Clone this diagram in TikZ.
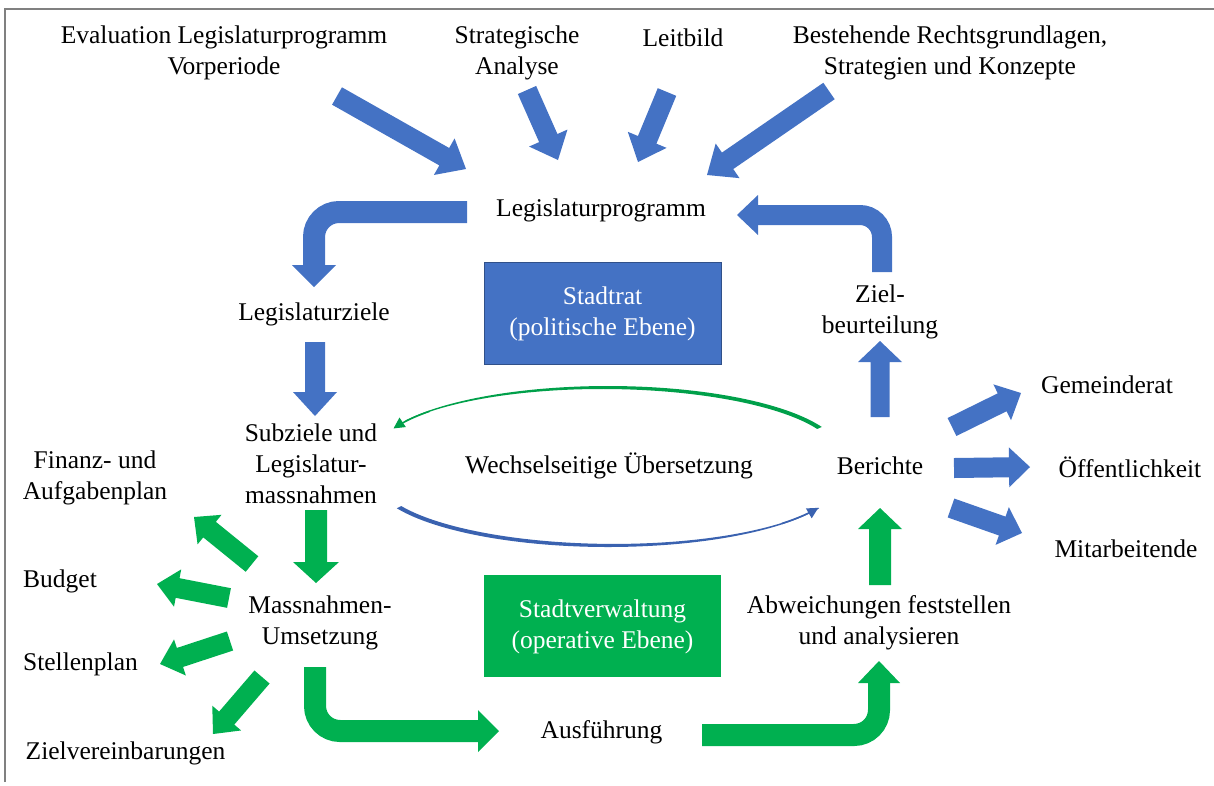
\documentclass[tikz,border=0pt]{standalone}
\usepackage{fontspec}
\setmainfont{Liberation Serif}
\usetikzlibrary{calc,arrows.meta}
\definecolor{ablue}{HTML}{4472C4}
\definecolor{agreen}{HTML}{00B050}
\definecolor{arcgreen}{HTML}{00A04A}
\definecolor{arcblue}{HTML}{3A62B0}
\definecolor{framegray}{HTML}{808080}

% straight block arrow: colour, tail, tip, half shaft width, half head width, head length
\newcommand\blockarrow[6]{%
  \path (#2) coordinate (ba-t) (#3) coordinate (ba-p);
  \path ($(ba-p)!#6pt!(ba-t)$) coordinate (ba-h);
  \fill[#1] ($(ba-t)!#4pt!90:(ba-p)$) -- ($(ba-h)!#4pt!90:(ba-p)$)
    -- ($(ba-h)!#5pt!90:(ba-p)$) -- (ba-p) -- ($(ba-h)!#5pt!-90:(ba-p)$)
    -- ($(ba-h)!#4pt!-90:(ba-p)$) -- ($(ba-t)!#4pt!-90:(ba-p)$) -- cycle;
}

\tikzset{
  lbl/.style={inner sep=0pt, align=center, font=\fontsize{25.5}{31}\selectfont},
  boxlbl/.style={lbl, text=white},
  bent/.style={line width=#1, line cap=butt},
}

\begin{document}
\begin{tikzpicture}[x=1pt,y=-1pt]
\useasboundingbox (0,0) rectangle (1214,785);

% frame
\draw[framegray, line width=1.5pt] (5,782) -- (5,9) -- (1214,9);

% level boxes
\fill[ablue] (484,262) rectangle (721,364);
\draw[ablue!70!black, line width=0.8pt] (484,262) rectangle (721,364);
\node[boxlbl] (stadtrat) at (602.5,314) {Stadtrat\\(politische Ebene)};
\fill[agreen] (484,575) rectangle (721,677);
\node[boxlbl] (verwaltung) at (602.5,627) {Stadtverwaltung\\(operative Ebene)};

% labels
\node[lbl] (eval) at (224,52.5) {Evaluation Legislaturprogramm\\Vorperiode};
\node[lbl] (strat) at (517,52.5) {Strategische\\Analyse};
\node[lbl] (leitbild) at (683,38) {Leitbild};
\node[lbl] (recht) at (950,52.5) {Bestehende Rechtsgrundlagen,\\Strategien und Konzepte};
\node[lbl] (legprog) at (601,210) {Legislaturprogramm};
\node[lbl] (legziele) at (314,314) {Legislaturziele};
\node[lbl] (zielbeurt) at (880,312) {Ziel-\\beurteilung};
\node[lbl] (subziele) at (311,464) {Subziele und\\Legislatur-\\massnahmen};
\node[lbl] (wechsel) at (609,466) {Wechselseitige Übersetzung};
\node[lbl] (berichte) at (880,466) {Berichte};
\node[lbl] (gemeinderat) at (1107,385) {Gemeinderat};
\node[lbl] (oeff) at (1130,467) {Öffentlichkeit};
\node[lbl] (mitarb) at (1126,549) {Mitarbeitende};
\node[lbl] (finanz) at (95,478) {Finanz- und\\Aufgabenplan};
\node[lbl] (budget) at (60,581) {Budget};
\node[lbl] (stellen) at (80.5,664) {Stellenplan};
\node[lbl] (zielverein) at (125.5,753) {Zielvereinbarungen};
\node[lbl] (massn) at (320,623) {Massnahmen-\\Umsetzung};
\node[lbl] (abw) at (879,623) {Abweichungen feststellen\\und analysieren};
\node[lbl] (ausf) at (601.5,732) {Ausführung};

% inputs into the Legislaturprogramm
\coordinate (in1a) at (337,96);  \coordinate (in1b) at (466,169);
\coordinate (in2a) at (527,90);  \coordinate (in2b) at (558,160);
\coordinate (in3a) at (667,92);  \coordinate (in3b) at (638,162);
\coordinate (in4a) at (829,91);  \coordinate (in4b) at (707,175);
\blockarrow{ablue}{in1a}{in1b}{10}{21}{25}
\blockarrow{ablue}{in2a}{in2b}{10}{21}{24}
\blockarrow{ablue}{in3a}{in3b}{10}{21}{24}
\blockarrow{ablue}{in4a}{in4b}{10}{21}{25}

% Legislaturprogramm -> Legislaturziele
\coordinate (pz0) at (467,212); \coordinate (pz1) at (314,212);
\coordinate (pz2) at (314,266); \coordinate (pztip) at (314,287);
\draw[ablue, bent=22pt, rounded corners=25pt] (pz0) -- (pz1) -- (pz2);
\fill[ablue] ($(pz2)+(-22,-1)$) -- ($(pz2)+(22,-1)$) -- (pztip) -- cycle;

% Zielbeurteilung -> Legislaturprogramm
\coordinate (zb0) at (882,272); \coordinate (zb1) at (882,215);
\coordinate (zb2) at (757,215); \coordinate (zbtip) at (737,215);
\draw[ablue, bent=20pt, rounded corners=22pt] (zb0) -- (zb1) -- (zb2);
\fill[ablue] ($(zb2)+(1,-20)$) -- ($(zb2)+(1,20)$) -- (zbtip) -- cycle;

% vertical links
\coordinate (lz0) at (315,342); \coordinate (lz1) at (315,416);
\blockarrow{ablue}{lz0}{lz1}{10}{22}{24}
\coordinate (bz0) at (880,417); \coordinate (bz1) at (880,341);
\blockarrow{ablue}{bz0}{bz1}{9.5}{22}{21}
\coordinate (sm0) at (316,510); \coordinate (sm1) at (316,583);
\blockarrow{agreen}{sm0}{sm1}{11}{23}{21}
\coordinate (ab0) at (880,585); \coordinate (ab1) at (880,508);
\blockarrow{agreen}{ab0}{ab1}{11}{22}{21}

% Massnahmen-Umsetzung -> Ausführung
\coordinate (ma0) at (315,667); \coordinate (ma1) at (315,731);
\coordinate (ma2) at (479,731); \coordinate (matip) at (499,731);
\draw[agreen, bent=22pt, rounded corners=25pt] (ma0) -- (ma1) -- (ma2);
\fill[agreen] ($(ma2)+(-1,-21)$) -- ($(ma2)+(-1,21)$) -- (matip) -- cycle;

% Ausführung -> Abweichungen
\coordinate (au0) at (702,735); \coordinate (au1) at (879,735);
\coordinate (au2) at (879,682); \coordinate (autip) at (879,661);
\draw[agreen, bent=22pt, rounded corners=25pt] (au0) -- (au1) -- (au2);
\fill[agreen] ($(au2)+(-21,1)$) -- ($(au2)+(21,1)$) -- (autip) -- cycle;

% Massnahmen-Umsetzung -> instruments
\coordinate (o1a) at (252,564); \coordinate (o1b) at (194,517);
\coordinate (o2a) at (229,598); \coordinate (o2b) at (157,584);
\coordinate (o3a) at (230,641); \coordinate (o3b) at (160,664);
\coordinate (o4a) at (262,677); \coordinate (o4b) at (213,734);
\blockarrow{agreen}{o1a}{o1b}{10}{19}{20}
\blockarrow{agreen}{o2a}{o2b}{10}{19}{21}
\blockarrow{agreen}{o3a}{o3b}{10}{19}{21}
\blockarrow{agreen}{o4a}{o4b}{10}{19}{21}

% Berichte -> recipients
\coordinate (r1a) at (952,427);  \coordinate (r1b) at (1021,393);
\coordinate (r2a) at (954,468);  \coordinate (r2b) at (1030,467);
\coordinate (r3a) at (951,508);  \coordinate (r3b) at (1022,533);
\blockarrow{ablue}{r1a}{r1b}{10}{20}{21}
\blockarrow{ablue}{r2a}{r2b}{10}{20}{21}
\blockarrow{ablue}{r3a}{r3b}{10}{20}{21}

% mutual translation: upper arc (right to left), lower arc (left to right)
\fill[arcgreen] plot[domain=24:150, samples=80] ({608+234*cos(\x)},{455-69*sin(\x)})
  -- plot[domain=150:24, samples=80]
     ({608+(234-(1.2+3.8*(150-\x)/126))*cos(\x)},{455-(69-(1.2+3.8*(150-\x)/126))*sin(\x)}) -- cycle;
\draw[arcgreen, line width=1.6pt, -{Triangle[length=11pt,width=11pt]}]
  plot[domain=140:157, samples=20] ({608+233*cos(\x)},{455-68*sin(\x)});

\fill[arcblue] plot[domain=206:334, samples=80] ({608+235*cos(\x)},{478-69*sin(\x)})
  -- plot[domain=334:206, samples=80]
     ({608+(235-(1.2+3.8*(334-\x)/128))*cos(\x)},{478-(69-(1.2+3.8*(334-\x)/128))*sin(\x)}) -- cycle;
\draw[arcblue, line width=1.6pt, -{Triangle[length=11pt,width=11pt]}]
  plot[domain=318:334, samples=20] ({608+234*cos(\x)},{478-68*sin(\x)});

\end{tikzpicture}
\end{document}
